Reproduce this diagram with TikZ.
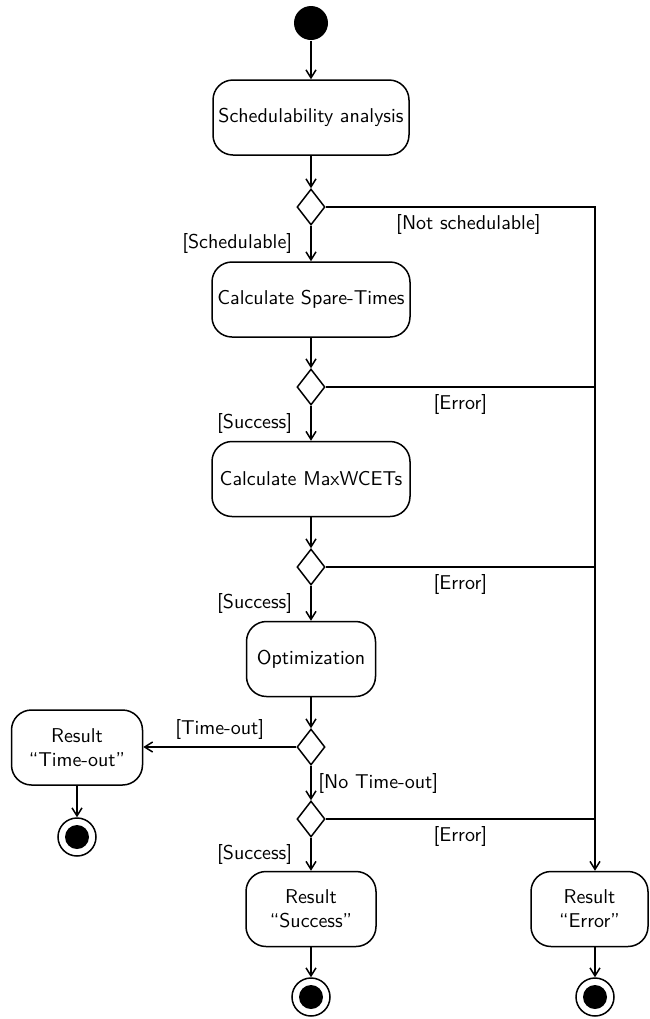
\documentclass[tikz,border=0pt]{standalone}
\usetikzlibrary{arrows.meta,shapes.geometric}
\begin{document}
\begin{tikzpicture}[x=0.5pt,y=-0.5pt,
  font=\sffamily,
  line width=0.75pt,
  arr/.style={-{Straight Barb[length=4pt,width=5pt]}},
  action/.style={draw,rounded corners=10pt,align=center,minimum height=37.5pt,inner sep=2pt},
  decision/.style={draw,diamond,shape aspect=0.78,minimum width=14pt,minimum height=18pt,inner sep=0pt},
  initial/.style={circle,fill=black,minimum size=17pt,inner sep=0pt},
  final/.style={circle,draw,minimum size=19pt,inner sep=0pt,
    path picture={\fill (path picture bounding box.center) circle (6pt);}},
  guard/.style={font=\sffamily}]
\useasboundingbox (0,0) rectangle (649,1019);

% main flow
\node[initial] (start) at (311,23) {};
\node[action,minimum width=98pt] (sched) at (311,117.5) {Schedulability analysis};
\node[decision] (d1) at (311,207) {};
\node[action,minimum width=99pt] (spare) at (311,299.5) {Calculate Spare-Times};
\node[decision] (d2) at (311,387) {};
\node[action,minimum width=99pt] (wcet) at (311,479) {Calculate MaxWCETs};
\node[decision] (d3) at (311,567) {};
\node[action,minimum width=64.5pt] (opt) at (311,659) {Optimization};
\node[decision] (d4) at (311,747) {};
\node[decision] (d5) at (311,819) {};

% results
\node[action,minimum width=65.5pt] (tout) at (77,747.5) {Result\\``Time-out''};
\node[action,minimum width=65pt] (succ) at (311,909) {Result\\``Success''};
\node[action,minimum width=58.5pt] (err) at (589.5,909) {Result\\``Error''};

\node[final] (endt) at (77,837) {};
\node[final] (ends) at (311,997) {};
\node[final] (ende) at (595,997) {};

% error collector line
\coordinate (j1) at (595,207);
\coordinate (j2) at (595,387);
\coordinate (j3) at (595,567);
\coordinate (j5) at (595,819);

% connectors
\draw[arr] (start) -- (sched);
\draw[arr] (sched) -- (d1);
\draw[arr] (d1) -- node[guard,midway,left=5.7pt] (g1) {[Schedulable]} (spare);
\draw[arr] (spare) -- (d2);
\draw[arr] (d2) -- node[guard,midway,left=5.7pt] (g2) {[Success]} (wcet);
\draw[arr] (wcet) -- (d3);
\draw[arr] (d3) -- node[guard,midway,left=5.7pt] (g3) {[Success]} (opt);
\draw[arr] (opt) -- (d4);
\draw[arr] (d4) -- node[guard,midway,right] (g4) {[No Time-out]} (d5);
\draw[arr] (d5) -- node[guard,midway,left=5.7pt] (g5) {[Success]} (succ);
\draw[arr] (d4.west) -- node[guard,midway,above] (g6) {[Time-out]} (tout.east |- d4.west);

\draw[arr] (d1.east) -- node[guard,pos=0.53,below] (g7) {[Not schedulable]} (j1) -- (err.north -| j1);
\draw (d2.east) -- node[guard,midway,below] (g8) {[Error]} (j2);
\draw (d3.east) -- node[guard,midway,below] (g9) {[Error]} (j3);
\draw (d5.east) -- node[guard,midway,below] (g10) {[Error]} (j5);

\draw[arr] (tout) -- (endt);
\draw[arr] (succ) -- (ends);
\draw[arr] (err.south -| ende) -- (ende);
\end{tikzpicture}
\end{document}
